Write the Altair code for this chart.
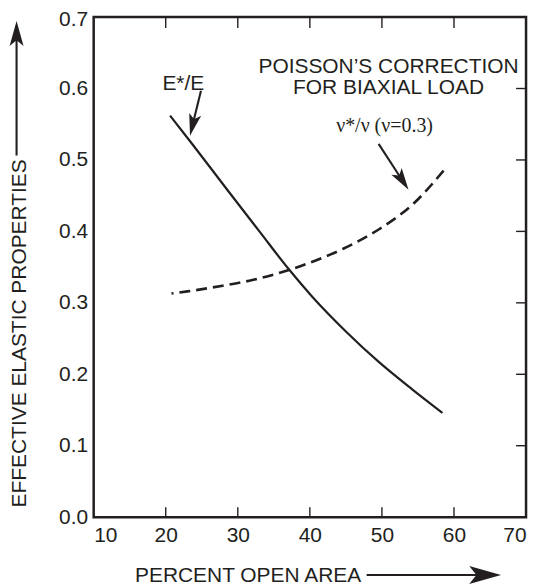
import altair as alt
import pandas as pd

# ---------------- data ----------------
open_area_e = [20.6, 23.7, 28.4, 33.0, 37.0, 40.3, 45.0, 49.6, 54.2, 58.4]
e_ratio = [0.562, 0.522, 0.460, 0.400, 0.348, 0.309, 0.260, 0.217, 0.179, 0.146]

open_area_nu = [20.8, 23.0, 27.9, 31.6, 37.1, 39.4, 44.7, 49.6, 54.4, 58.8]
nu_ratio = [0.313, 0.316, 0.324, 0.331, 0.346, 0.354, 0.376, 0.403, 0.439, 0.488]

x_tick_labels = [10, 20, 30, 40, 50, 60, 70]
y_tick_labels = [0.0, 0.1, 0.2, 0.3, 0.4, 0.5, 0.6, 0.7]
x_inner_ticks = [20, 30, 40, 50, 60]
y_inner_ticks = [0.1, 0.2, 0.3, 0.4, 0.5, 0.6]

# annotation texts and anchors (data units)
sans_texts = ["E*/E", "POISSON\u2019S CORRECTION", "FOR BIAXIAL LOAD", "PERCENT OPEN AREA"]
sans_x = [22.44, 50.92, 50.92, 31.43]
sans_y = [0.598, 0.622, 0.5926, -0.0913]

serif_text = ["\u03bd*/\u03bd (\u03bd=0.3)"]
serif_x = [50.37]
serif_y = [0.5396]

ytitle_text = ["EFFECTIVE ELASTIC PROPERTIES"]
ytitle_x = [0.60]
ytitle_y = [0.2573]

# arrow shafts (start -> end) and heads (tip, heading angle, length)
shaft_x = [24.89, 49.54, -0.70, 47.88]
shaft_y = [0.5968, 0.5225, 0.5062, -0.0809]
shaft_x2 = [23.80, 52.69, -0.70, 64.06]
shaft_y2 = [0.5519, 0.4737, 0.6735, -0.0809]

head_x = [23.37, 53.69, -0.70, 66.54]
head_y = [0.534, 0.4583, 0.6944, -0.0809]
head_angle = [193.7, 146.9, 0, 90]
head_len = [22, 22, 25, 32]

# ---------------- styling ----------------
W, H = 434, 502
INK = "#231f20"
FONT = "Liberation Sans"
SERIF = "Liberation Serif"
FS = 21
TICK = 10
ARROW = "M0,0 L0.56,2 L0,1.55 L-0.56,2 Z"

xs = alt.Scale(domain=[10, 70], nice=False, zero=False)
ys = alt.Scale(domain=[0, 0.7], nice=False, zero=False)
XA = alt.Axis(values=x_tick_labels, title=None, labelPadding=7, format="d")
YA = alt.Axis(values=y_tick_labels, title=None, format=".1f", labelPadding=6,
              labelOffset={"condition": {"test": "datum.value >= 0.65", "value": 2}, "value": 0})


def X(field="x"):
    return alt.X(f"{field}:Q", scale=xs, axis=XA, title=None)


def Y(field="y"):
    return alt.Y(f"{field}:Q", scale=ys, axis=YA, title=None)


e_df = pd.DataFrame({"x": open_area_e, "y": e_ratio})
nu_df = pd.DataFrame({"x": open_area_nu, "y": nu_ratio})

e_line = alt.Chart(e_df).mark_line(
    color=INK, strokeWidth=2.2, interpolate="monotone"
).encode(x=X(), y=Y())

nu_line = alt.Chart(nu_df).mark_line(
    color=INK, strokeWidth=2.6, strokeDash=[11, 6], strokeDashOffset=9, interpolate="monotone"
).encode(x=X(), y=Y())

# inward ticks
bx = pd.DataFrame({"x": x_inner_ticks})
by = pd.DataFrame({"y": y_inner_ticks})
bottom_ticks = alt.Chart(bx).mark_rule(color=INK, strokeWidth=1.4).encode(
    x=X(), y=alt.value(H), y2=alt.value(H - TICK))
top_ticks = alt.Chart(bx).mark_rule(color=INK, strokeWidth=1.4).encode(
    x=X(), y=alt.value(0), y2=alt.value(TICK + 1))
right_ticks = alt.Chart(by).mark_rule(color=INK, strokeWidth=1.4).encode(
    y=Y(), x=alt.value(W), x2=alt.value(W - TICK))

# arrows
sh_df = pd.DataFrame({"x": shaft_x, "y": shaft_y, "x2": shaft_x2, "y2": shaft_y2})
shafts = alt.Chart(sh_df).mark_rule(color=INK, strokeWidth=2.1).encode(
    x=X(), y=Y(), x2="x2:Q", y2="y2:Q")

hd_df = pd.DataFrame({"x": head_x, "y": head_y, "angle": head_angle,
                      "size": [l * l for l in head_len]})
heads = alt.Chart(hd_df).mark_point(
    shape=ARROW, filled=True, color=INK, opacity=1, strokeWidth=0
).encode(
    x=X(), y=Y(),
    angle=alt.Angle("angle:Q", scale=None), size=alt.Size("size:Q", scale=None, legend=None))

# texts
st_df = pd.DataFrame({"t": sans_texts, "x": sans_x, "y": sans_y})
sans = alt.Chart(st_df).mark_text(
    font=FONT, fontSize=FS, color=INK, align="center", baseline="alphabetic"
).encode(x=X(), y=Y(), text="t:N")

sf_df = pd.DataFrame({"t": serif_text, "x": serif_x, "y": serif_y})
serif = alt.Chart(sf_df).mark_text(
    font=SERIF, fontSize=20, color=INK, align="center", baseline="alphabetic"
).encode(x=X(), y=Y(), text="t:N")

yt_df = pd.DataFrame({"t": ytitle_text, "x": ytitle_x, "y": ytitle_y})
ytitle = alt.Chart(yt_df).mark_text(
    font=FONT, fontSize=FS, color=INK, align="center", baseline="alphabetic", angle=270
).encode(x=X(), y=Y(), text="t:N")

chart = alt.layer(
    e_line, nu_line, bottom_ticks, top_ticks, right_ticks, shafts, heads, sans, serif, ytitle
).properties(
    width=W, height=H,
    padding={"left": 86, "top": 8, "right": 10, "bottom": 69},
    autosize=alt.AutoSizeParams(type="none"),
    background="white",
).configure_view(
    stroke=INK, strokeWidth=2.5
).configure_axis(
    labelFont=FONT, labelFontSize=FS, labelColor=INK, tickSize=0, domain=False, grid=False,
)

chart.save("out.html", embed_options={"renderer": "svg", "actions": False})
